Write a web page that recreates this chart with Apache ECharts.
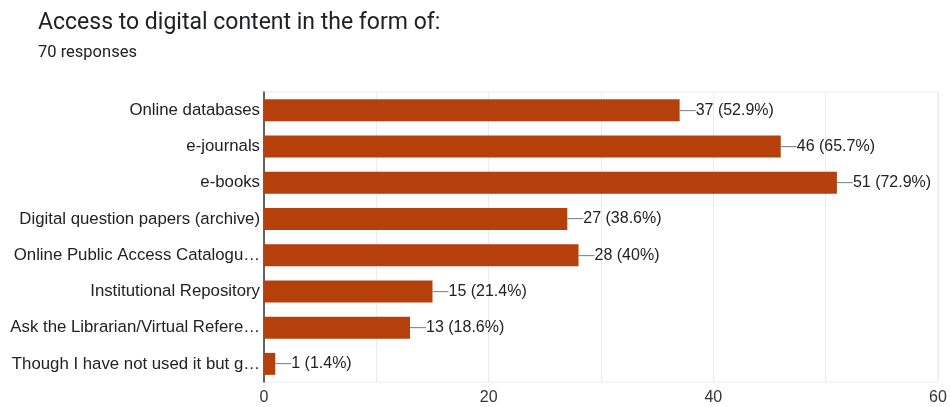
<!DOCTYPE html>
<html lang="en">
<head>
    <meta charset="UTF-8">
    <title>Access to digital content</title>
    <script src="https://cdn.jsdelivr.net/npm/echarts@6/dist/echarts.min.js"></script>
    <style>
        html,body{
            margin: 0;
            height: 100%;
            background: #fff;
        }
    </style>
</head>
<body>
<div id="main" style="width: 950px;height: 407px"></div>
</body>
</html>
<script>
    // categories, top to bottom
    var categories = [
        "Online databases",
        "e-journals",
        "e-books",
        "Digital question papers (archive)",
        "Online Public Access Catalogu\u2026",
        "Institutional Repository",
        "Ask the Librarian/Virtual Refere\u2026",
        "Though I have not used it but g\u2026"
    ];
    var counts = [37, 46, 51, 27, 28, 15, 13, 1];
    var percents = ["52.9%", "65.7%", "72.9%", "38.6%", "40%", "21.4%", "18.6%", "1.4%"];
    var tickLabels = [0, 20, 40, 60];

    var myChart = echarts.init(document.getElementById('main'));

    var option = {
        animation: false,
        title: {
            text: 'Access to digital content in the form of:',
            subtext: '70 responses',
            left: 33,
            top: 7,
            itemGap: 9,
            textStyle: {
                fontFamily: 'Roboto',
                fontSize: 23,
                fontWeight: 'normal',
                color: '#202124'
            },
            subtextStyle: {
                fontFamily: 'Roboto',
                fontSize: 16.5,
                color: '#202124'
            }
        },
        grid: {
            left: 264,
            right: 12,
            top: 92,
            bottom: 25,
            show: true,
            borderColor: '#ebebeb',
            borderWidth: 1
        },
        xAxis: {
            type: 'value',
            min: 0,
            max: 60,
            interval: 10,
            axisLine: {show: false},
            axisTick: {show: false},
            splitLine: {lineStyle: {color: '#ebebeb'}},
            axisLabel: {
                fontFamily: 'Liberation Sans',
                fontSize: 16,
                color: '#333',
                margin: 8,
                formatter: function (v) {
                    return tickLabels.indexOf(v) >= 0 ? String(v) : '';
                }
            }
        },
        yAxis: {
            type: 'category',
            inverse: true,
            data: categories,
            axisLine: {show: true, lineStyle: {color: '#333', width: 1.5}},
            axisTick: {show: false},
            axisLabel: {
                fontFamily: 'Liberation Sans',
                fontSize: 16.8,
                color: '#222',
                margin: 4
            }
        },
        series: [{
            type: 'bar',
            data: counts,
            barWidth: 22,
            itemStyle: {color: '#b5400b'},
            label: {
                show: true,
                position: 'right',
                distance: 0,
                formatter: function (p) {
                    return '{l|\u2014}{v|' + p.value + ' (' + percents[p.dataIndex] + ')}';
                },
                rich: {
                    l: {color: '#888', fontSize: 16, fontFamily: 'Liberation Sans'},
                    v: {color: '#222', fontSize: 16, fontFamily: 'Liberation Sans'}
                }
            }
        }]
    };

    myChart.setOption(option);
</script>
